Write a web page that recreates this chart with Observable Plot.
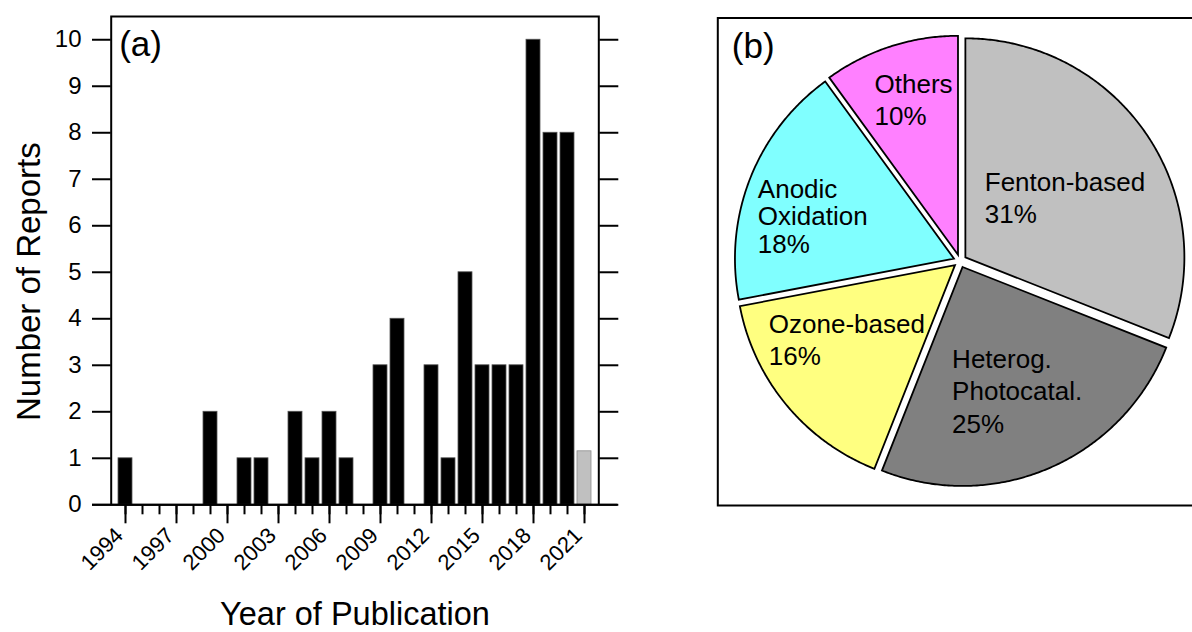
<!DOCTYPE html>
<html>
<head>
<meta charset="utf-8">
<script src="https://cdn.jsdelivr.net/npm/d3@7"></script>
<script src="https://cdn.jsdelivr.net/npm/@observablehq/plot@0.6"></script>
<style>
html, body { margin: 0; padding: 0; background: #fff; overflow: hidden; }
#wrap { position: relative; width: 1192px; height: 632px; overflow: hidden; }
#a, #b { position: absolute; top: 0; }
#a { left: 0; width: 640px; }
#b { left: 700px; width: 500px; }
#a svg, #b svg { max-width: none !important; }
</style>
</head>
<body>
<div id="wrap"><div id="a"></div><div id="b"></div></div>
<script>
// ---------- data: panel (a) ----------
const years = [1994, 1995, 1996, 1997, 1998, 1999, 2000, 2001, 2002, 2003, 2004, 2005, 2006, 2007,
               2008, 2009, 2010, 2011, 2012, 2013, 2014, 2015, 2016, 2017, 2018, 2019, 2020, 2021];
const reports = [1, 0, 0, 0, 0, 2, 0, 1, 1, 0, 2, 1, 2, 1,
                 0, 3, 4, 0, 3, 1, 5, 3, 3, 3, 10, 8, 8, 1.15];
const partialYear = 2021;
const labelledYears = [1994, 1997, 2000, 2003, 2006, 2009, 2012, 2015, 2018, 2021];
const yTicks = [0, 1, 2, 3, 4, 5, 6, 7, 8, 9, 10];

// ---------- data: panel (b) ----------
const methods = ["Fenton-based", "Heterog.\nPhotocatal.", "Ozone-based", "Anodic\nOxidation", "Others"];
const shares = [31, 25, 16, 18, 10];
const sliceColors = ["#c0c0c0", "#808080", "#ffff80", "#80ffff", "#ff80ff"];

// ---------- layout ----------
const FONT = '"Liberation Sans", Arial, Helvetica, sans-serif';
// label block anchors (left edge, vertical centre) in pie-radius units, and line heights
const labelAnchor = [[0.113, 0.294], [-0.036, -0.589], [-0.873, -0.355], [-0.923, 0.204], [-0.390, 0.741]];
const labelLineHeight = [1.25, 1.25, 1.25, 1.06, 1.25];

// ================= panel (a) =================
const barData = years.map((year, i) => ({year, count: reports[i], partial: year === partialYear}));
const AW = 640, AH = 632;
const plotA = Plot.plot({
  width: AW, height: AH,
  marginLeft: 110.7, marginRight: AW - 598.3, marginTop: 16, marginBottom: AH - 504.3,
  style: {fontFamily: FONT, background: "transparent", color: "#000", overflow: "visible", maxWidth: "none"},
  x: {type: "band", domain: years, paddingInner: 0.15, paddingOuter: 0.33, axis: null},
  y: {domain: [0, 10.5], axis: null},
  color: {type: "identity"},
  marks: [
    Plot.barY(barData, {
      x: "year", y: "count",
      fill: d => d.partial ? "#c0c0c0" : "#000000",
      stroke: d => d.partial ? "#8c8c8c" : "#555555",
      strokeWidth: 0.8
    }),
    Plot.frame({stroke: "#000", strokeWidth: 2}),
    Plot.ruleY([0], {stroke: "#000", strokeWidth: 2, insetLeft: -18.7, insetRight: -19}),
    Plot.axisY({anchor: "left", ticks: yTicks, tickSize: 18.7, tickPadding: 11, fontSize: 24,
                strokeWidth: 2, label: null, tickFormat: d => String(d)}),
    Plot.axisY({anchor: "right", ticks: yTicks, tickSize: 19, strokeWidth: 2, label: null,
                tickFormat: () => ""}),
    Plot.axisX({anchor: "bottom", ticks: years, tickSize: 10, strokeWidth: 2, label: null,
                tickFormat: () => ""}),
    Plot.axisX({anchor: "bottom", ticks: labelledYears, tickSize: 19, strokeWidth: 2, label: null,
                tickFormat: () => ""}),
    Plot.axisX({anchor: "bottom", ticks: labelledYears, tickSize: 0, tickPadding: 27, dx: -6,
                label: null, tickRotate: -45, fontSize: 22, tickFormat: d => String(d)}),
    Plot.text(["(a)"], {text: d => d, frameAnchor: "top-left", dx: 8, dy: 15,
                        textAnchor: "start", lineAnchor: "top", fontSize: 35}),
    Plot.text(["Year of Publication"], {text: d => d, frameAnchor: "bottom", dy: 110,
                        textAnchor: "middle", lineAnchor: "middle", fontSize: 32.5}),
    Plot.text(["Number of Reports"], {text: d => d, frameAnchor: "left", rotate: -90,
                        dx: -81.7, dy: 21, textAnchor: "middle", lineAnchor: "middle", fontSize: 33})
  ]
});
document.getElementById("a").appendChild(plotA);

// ================= panel (b) =================
const BW = 500, BH = 632;
const R = 219;                     // pie radius in px
const cxPx = 259.5, cyPx = 260.5;  // pie centre within panel-b svg
const fL = 17.3, fT = 17.5, fB = 505;
const explode = 6.5 / R;

const total = d3.sum(shares);
let acc = 0;
const slices = methods.map((name, i) => {
  const a0 = acc / total * 2 * Math.PI;
  acc += shares[i];
  const a1 = acc / total * 2 * Math.PI;
  return {name, share: shares[i], color: sliceColors[i], a0, a1};
});
const piePts = [];
slices.forEach(s => {
  const mid = (s.a0 + s.a1) / 2;
  const ox = explode * Math.sin(mid), oy = explode * Math.cos(mid);
  piePts.push({name: s.name, color: s.color, x: ox, y: oy});
  const n = Math.max(2, Math.ceil((s.a1 - s.a0) / (Math.PI / 360)));
  for (let k = 0; k <= n; k++) {
    const a = s.a0 + (s.a1 - s.a0) * k / n;
    piePts.push({name: s.name, color: s.color, x: ox + Math.sin(a), y: oy + Math.cos(a)});
  }
});

const labelMarks = slices.map((s, i) => Plot.text(
  [{text: `${s.name}\n${s.share}%`, x: labelAnchor[i][0], y: labelAnchor[i][1]}],
  {x: "x", y: "y", text: "text", textAnchor: "start", lineAnchor: "middle",
   lineHeight: labelLineHeight[i], fontSize: 26, fill: "#000"}
));

const plotB = Plot.plot({
  width: BW, height: BH,
  marginLeft: fL, marginRight: 0, marginTop: fT, marginBottom: BH - fB,
  style: {fontFamily: FONT, background: "transparent", color: "#000", overflow: "visible", maxWidth: "none"},
  x: {domain: [(fL - cxPx) / R, (BW - cxPx) / R], axis: null},
  y: {domain: [(cyPx - fB) / R, (cyPx - fT) / R], axis: null},
  color: {type: "identity"},
  marks: [
    Plot.line(piePts, {x: "x", y: "y", z: "name", fill: "color", stroke: "#000", strokeWidth: 1.8,
                       curve: "linear-closed", strokeLinejoin: "miter", strokeMiterlimit: 4}),
    ...labelMarks,
    Plot.frame({stroke: "#000", strokeWidth: 2}),
    Plot.text(["(b)"], {text: d => d, frameAnchor: "top-left", dx: 14, dy: 15,
                        textAnchor: "start", lineAnchor: "top", fontSize: 35})
  ]
});
document.getElementById("b").appendChild(plotB);
</script>
</body>
</html>
